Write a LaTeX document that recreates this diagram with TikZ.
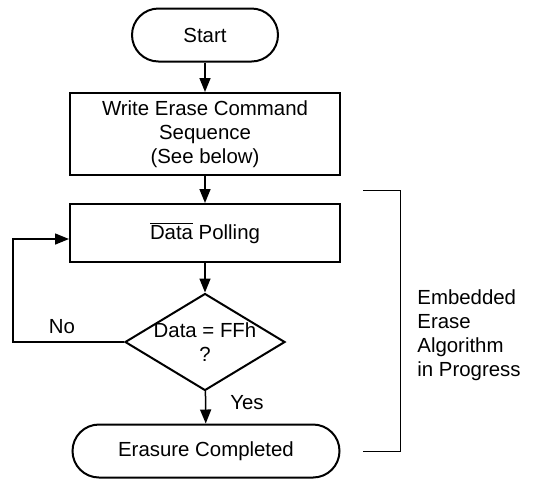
\documentclass[tikz,border=0pt]{standalone}
\usepackage{fontspec}
\setmainfont{Liberation Sans}
\usetikzlibrary{shapes.geometric, arrows.meta}

\tikzset{
  stadium/.style={draw, line width=1pt, rounded corners=13.25pt, minimum height=26.5pt, align=center},
  stepbox/.style={draw, line width=1pt, minimum width=135pt, align=center},
  decision/.style={draw, line width=1pt, diamond, aspect=1.65, inner xsep=0pt, inner ysep=-3pt,
    minimum width=80pt, minimum height=48.5pt, align=center},
  flow/.style={line width=0.75pt, -{Triangle[length=7pt,width=5.5pt]}},
  note/.style={align=left, inner sep=0pt}
}

\begin{document}
\begin{tikzpicture}[x=0.5pt, y=-0.5pt, font=\fontsize{10.2}{12}\selectfont]
\useasboundingbox (0,0) rectangle (545,479);

% Flow
\node[stadium, minimum width=73pt] (start) at (205,35) {Start};
\node[stepbox, minimum height=41pt] (write) at (205,134) {Write Erase Command\\Sequence\\(See below)};
\node[stepbox, minimum height=29pt] (poll) at (205,233) {$\overline{\mbox{Data}}$ Polling};
\node[decision] (check) at (205,342) {Data = FFh\\?};
\node[stadium, minimum width=133.5pt] (done) at (206,451) {Erasure Completed};

\draw[flow] (start) -- (write);
\draw[flow] (write) -- (poll);
\draw[flow] (poll) -- (check);
\draw[flow] (check) -- (done);

% Loop back
\coordinate (loop) at (13,342);
\draw[flow] (check.west) -- (loop) |- ([yshift=-3pt]poll.west);
\node (no) at (62,327) {No};
\node (yes) at (247,403) {Yes};

% Bracket
\coordinate (btop) at (363,190);
\coordinate (bbot) at (363,451);
\draw[line width=0.5pt] (btop) -- ++(37,0) |- (bbot);
\node[note, anchor=west] (algo) at (417,335) {Embedded\\Erase\\Algorithm\\in Progress};
\end{tikzpicture}
\end{document}
